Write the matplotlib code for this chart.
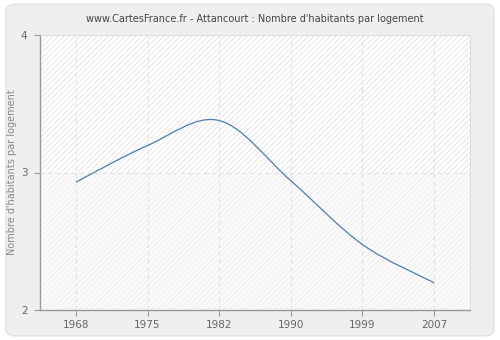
import matplotlib
matplotlib.use("Agg")
import matplotlib.pyplot as plt
from matplotlib.path import Path
from matplotlib.patches import PathPatch, FancyBboxPatch, Rectangle

years = ["1968", "1975", "1982", "1990", "1999", "2007"]
values = [2.93, 3.196, 3.378, 2.94, 2.476, 2.198]
yticks = [2, 3, 4]
title = "www.CartesFrance.fr - Attancourt : Nombre d'habitants par logement"
ylabel = "Nombre d'habitants par logement"

plt.rcParams['font.family'] = ['DejaVu Sans']
plt.rcParams['hatch.linewidth'] = 0.6

fig = plt.figure(figsize=(5, 3.4), dpi=100)
fig.patch.set_facecolor('white')
bg = FancyBboxPatch((0.012, 0.012), 0.976, 0.976, boxstyle="round,pad=0,rounding_size=0.02",
                    transform=fig.transFigure, facecolor='#efefef', edgecolor='#e2e2e2',
                    linewidth=1.0, zorder=-10)
fig.patches.append(bg)

ax = fig.add_axes([40/500, 1-310/340, 430/500, 275/340])
ax.set_zorder(1)
ax.set_facecolor('white')
ax.set_xlim(-0.5, len(years) - 0.5)
ax.set_ylim(yticks[0], yticks[-1])

# banded hatched background
ax.add_patch(Rectangle((-0.5, 3), len(years), 1, facecolor='white', edgecolor='#e2e2e2',
                       hatch='//////', linewidth=0, zorder=0))
ax.add_patch(Rectangle((-0.5, 2), len(years), 1, facecolor='#fafafa', edgecolor='#eeeeee',
                       hatch='//////', linewidth=0, zorder=0))

# smooth curve (Catmull-Rom as cubic Bezier)
xs = list(range(len(years)))
pts = list(zip(xs, values))
verts = [pts[0]]
codes = [Path.MOVETO]
for i in range(len(pts) - 1):
    p0 = pts[i - 1] if i > 0 else pts[i]
    p1 = pts[i]
    p2 = pts[i + 1]
    p3 = pts[i + 2] if i + 2 < len(pts) else pts[i + 1]
    c1 = (p1[0] + (p2[0] - p0[0]) / 6, p1[1] + (p2[1] - p0[1]) / 6)
    c2 = (p2[0] - (p3[0] - p1[0]) / 6, p2[1] - (p3[1] - p1[1]) / 6)
    verts += [c1, c2, p2]
    codes += [Path.CURVE4] * 3
ax.add_patch(PathPatch(Path(verts, codes), facecolor='none', edgecolor='#4f7bb0',
                       linewidth=0.9, zorder=3))

ax.set_xticks(xs)
ax.set_xticklabels(years)
ax.set_yticks(yticks)
ax.grid(True, color='#e2e2e2', linestyle=(0, (4, 3)), linewidth=0.8)
ax.set_axisbelow(False)
for gl in ax.get_xgridlines() + ax.get_ygridlines():
    gl.set_zorder(1)

for s in ['left', 'bottom']:
    ax.spines[s].set_color('#999999')
    ax.spines[s].set_linewidth(1.0)
for s in ['top', 'right']:
    ax.spines[s].set_color('#dddddd')
    ax.spines[s].set_linewidth(0.8)
ax.tick_params(axis='both', colors='#999999', labelcolor='#666666', labelsize=7.5,
               length=4, width=0.8, direction='out')
ax.tick_params(axis='y', pad=5)
ax.set_ylabel(ylabel, color='#888888', fontsize=7.0, labelpad=3)
ax.set_title(title, fontsize=7.0, color='#444444', pad=9)

fig.savefig("out.png", dpi=100, facecolor=fig.get_facecolor())
